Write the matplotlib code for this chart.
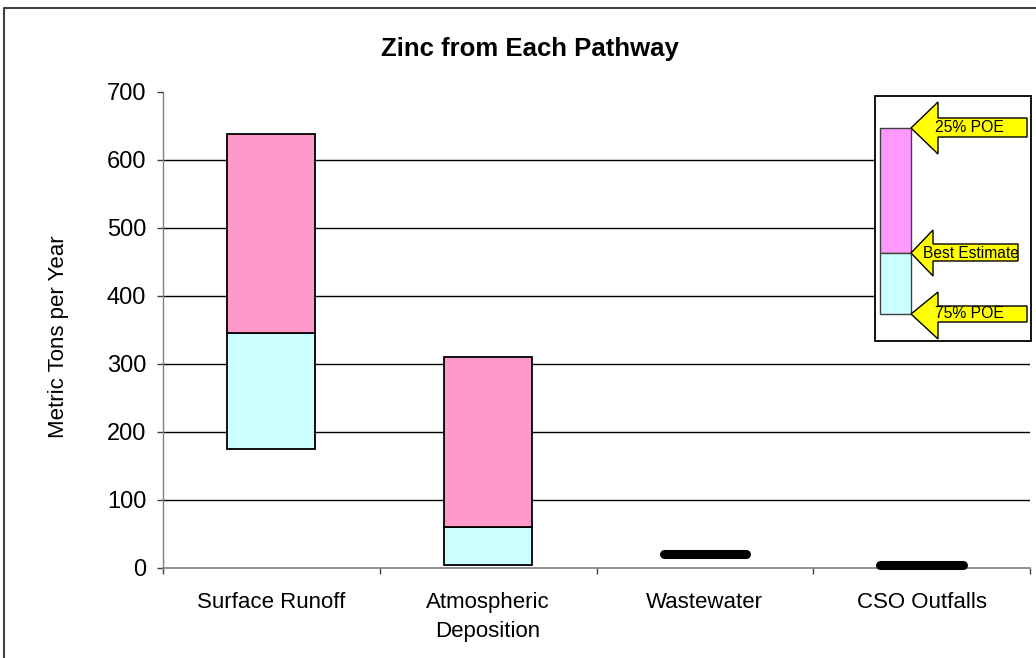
import matplotlib
matplotlib.use("Agg")
import matplotlib.pyplot as plt
from matplotlib.patches import Polygon, Rectangle

plt.rcParams['font.family'] = ['Liberation Sans', 'DejaVu Sans']

categories = ["Surface Runoff", "Atmospheric\nDeposition", "Wastewater", "CSO Outfalls"]
low_75 = [175, 5, None, None]          # 75% POE
best = [345, 60, None, None]           # best estimate
high_25 = [638, 310, None, None]       # 25% POE
single_values = [None, None, 20, 4]    # shown as a single thick line
yticks = [0, 100, 200, 300, 400, 500, 600, 700]

PINK = "#FF99CC"
CYAN = "#CCFFFF"

fig = plt.figure(figsize=(10.36, 6.58), dpi=100)
ax = fig.add_axes([163/1036, 1-568/658, (1030-163)/1036, (568-92)/658])

bw = 0.405
for i, cat in enumerate(categories):
    if low_75[i] is not None:
        ax.bar(i, best[i]-low_75[i], bottom=low_75[i], width=bw, color=CYAN,
               edgecolor="black", linewidth=1.3, zorder=3)
        ax.bar(i, high_25[i]-best[i], bottom=best[i], width=bw, color=PINK,
               edgecolor="black", linewidth=1.3, zorder=3)
    if single_values[i] is not None:
        ax.plot([i-0.19, i+0.19], [single_values[i]]*2, color="black",
                linewidth=6.5, solid_capstyle="round", zorder=4, clip_on=False)

ax.set_xlim(-0.5, len(categories)-0.5)
ax.set_ylim(0, 700)
ax.set_yticks(yticks)
ax.set_yticklabels([str(v) for v in yticks], fontsize=17)
ax.set_xticks(range(len(categories)))
ax.set_xticklabels(categories, fontsize=16, linespacing=1.5)
ax.tick_params(axis='x', length=0, pad=17)
ax.tick_params(axis='y', length=4, width=1, color="#404040", pad=8)
ax.set_xticks([k+0.5 for k in range(len(categories)-1)] + [-0.5, len(categories)-0.5], minor=True)
ax.tick_params(axis='x', which='minor', length=4, width=1, color="#404040")

for v in yticks[1:-1]:
    ax.axhline(v, color="black", linewidth=1, zorder=1)

for s in ["top", "right"]:
    ax.spines[s].set_visible(False)
ax.spines["left"].set_color("#808080")
ax.spines["bottom"].set_color("#808080")
ax.spines["left"].set_linewidth(1)
ax.spines["bottom"].set_linewidth(1.2)
ax.spines["bottom"].set_zorder(2)

ax.set_ylabel("Metric Tons per Year", fontsize=16)
ax.yaxis.set_label_coords((69-163)/867, 0.485)

fig.text(530/1036, 1-49/658, "Zinc from Each Pathway", fontsize=18.5, fontweight="bold",
         ha="center", va="center")

# overlay in pixel coordinates for the frame and the legend key
ov = fig.add_axes([0, 0, 1, 1], facecolor="none")
ov.set_xlim(0, 1036)
ov.set_ylim(658, 0)
ov.axis("off")
ov.plot([4, 4, 1036], [658, 8, 8], color="#404040", linewidth=1.5)

ov.add_patch(Rectangle((875, 96), 156, 245, facecolor="white", edgecolor="black", linewidth=1.3))
ov.add_patch(Rectangle((880, 128), 31, 125, facecolor="#FF99FF", edgecolor="#404040", linewidth=1))
ov.add_patch(Rectangle((880, 253), 31, 61, facecolor=CYAN, edgecolor="#404040", linewidth=1))

def arrow(tip_y, head_top, head_bot, body_top, body_bot, head_x, body_right):
    pts = [(911, tip_y), (head_x, head_top), (head_x, body_top), (body_right, body_top),
           (body_right, body_bot), (head_x, body_bot), (head_x, head_bot)]
    ov.add_patch(Polygon(pts, closed=True, facecolor="#FFFF00", edgecolor="black", linewidth=1, zorder=5))

arrow(128, 102, 154, 118, 137, 938, 1027)
arrow(253, 230, 276, 244, 261, 933, 1018)
arrow(314, 292, 339, 306, 322, 938, 1027)
ov.text(969, 128, "25% POE", fontsize=11.3, ha="center", va="center", zorder=6)
ov.text(971, 253, "Best Estimate", fontsize=11.2, ha="center", va="center", zorder=6)
ov.text(969, 314, "75% POE", fontsize=11.3, ha="center", va="center", zorder=6)

fig.savefig("out.png", dpi=100)
